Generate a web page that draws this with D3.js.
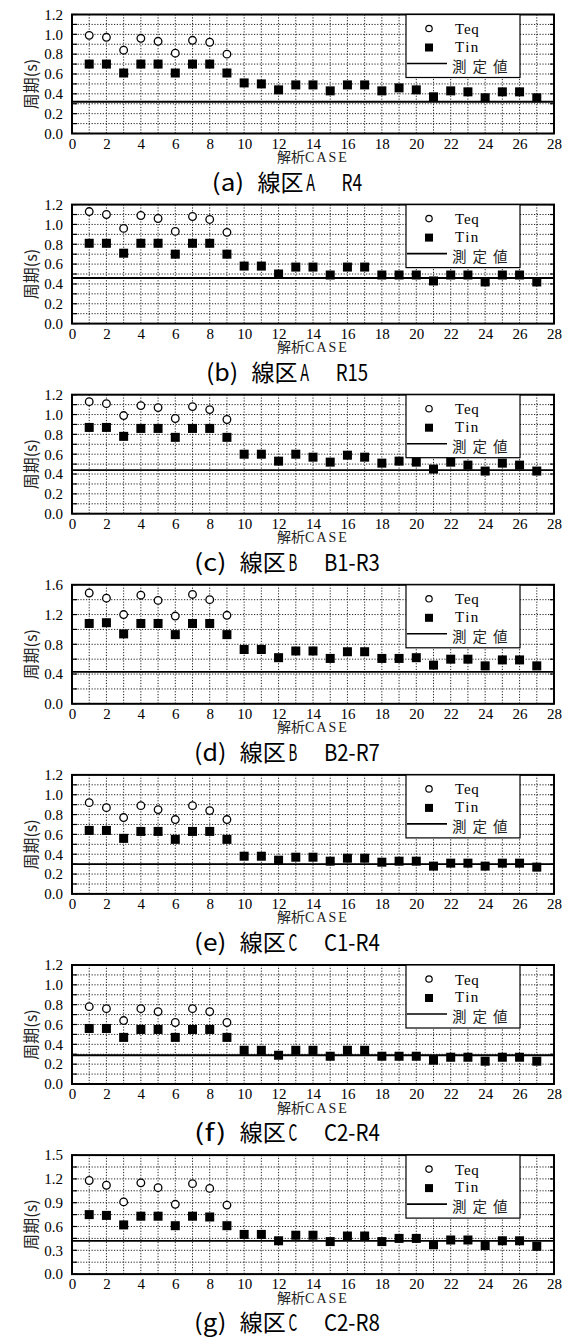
<!DOCTYPE html>
<html lang="ja">
<head>
<meta charset="UTF-8">
<title>周期 - 解析CASE</title>
<style>
  body { margin: 0; background: #fff; }
  svg { display: block; }
</style>
</head>
<body>
<svg id="chart"></svg>
<script src="https://cdn.jsdelivr.net/npm/d3@7/dist/d3.min.js"></script>
<script>
// x categories and tick labels
const cases = [1, 2, 3, 4, 5, 6, 7, 8, 9, 10, 11, 12, 13, 14, 15, 16, 17, 18, 19, 20, 21, 22, 23, 24, 25, 26, 27];
const xTickLabels = [0, 2, 4, 6, 8, 10, 12, 14, 16, 18, 20, 22, 24, 26, 28];

const captions = ['(a) 線区A　R4', '(b) 線区A　R15', '(c) 線区B　B1-R3', '(d) 線区B　B2-R7',
  '(e) 線区C　C1-R4', '(f) 線区C　C2-R4', '(g) 線区C　C2-R8'];
const yMaxes = [1.2, 1.2, 1.2, 1.6, 1.2, 1.2, 1.5];
const yLabelSteps = [0.2, 0.2, 0.2, 0.4, 0.2, 0.2, 0.3];
const yGridSteps = [0.1, 0.1, 0.1, 0.2, 0.1, 0.1, 0.15];
const measured = [0.32, 0.46, 0.44, 0.43, 0.30, 0.29, 0.42];

// Teq only for cases 1-9, Tin for all 27 cases
const teqA = [0.99, 0.97, 0.84, 0.96, 0.93, 0.81, 0.94, 0.92, 0.80];
const tinA = [0.70, 0.70, 0.61, 0.70, 0.70, 0.61, 0.70, 0.70, 0.61, 0.51, 0.50, 0.44, 0.49, 0.49, 0.43,
  0.49, 0.49, 0.43, 0.46, 0.44, 0.37, 0.43, 0.42, 0.36, 0.42, 0.42, 0.36];
const teqB = [1.13, 1.10, 0.96, 1.09, 1.06, 0.93, 1.08, 1.05, 0.92];
const tinB = [0.81, 0.81, 0.71, 0.81, 0.81, 0.70, 0.81, 0.81, 0.70, 0.58, 0.58, 0.50, 0.57, 0.57, 0.49,
  0.57, 0.57, 0.49, 0.49, 0.49, 0.43, 0.49, 0.49, 0.42, 0.49, 0.49, 0.42];
const teqC = [1.13, 1.11, 0.99, 1.09, 1.07, 0.96, 1.08, 1.05, 0.95];
const tinC = [0.87, 0.87, 0.78, 0.86, 0.86, 0.77, 0.86, 0.86, 0.77, 0.60, 0.60, 0.53, 0.60, 0.57, 0.52,
  0.59, 0.57, 0.51, 0.53, 0.52, 0.45, 0.52, 0.49, 0.43, 0.51, 0.49, 0.43];
const teqD = [1.49, 1.42, 1.20, 1.46, 1.39, 1.18, 1.47, 1.40, 1.19];
const tinD = [1.08, 1.09, 0.94, 1.08, 1.08, 0.93, 1.08, 1.08, 0.93, 0.73, 0.73, 0.62, 0.71, 0.71, 0.61,
  0.70, 0.70, 0.61, 0.61, 0.62, 0.52, 0.60, 0.60, 0.51, 0.59, 0.59, 0.51];
const teqE = [0.92, 0.87, 0.77, 0.89, 0.85, 0.75, 0.89, 0.84, 0.75];
const tinE = [0.64, 0.64, 0.56, 0.63, 0.63, 0.55, 0.63, 0.63, 0.55, 0.38, 0.38, 0.34, 0.37, 0.37, 0.33,
  0.36, 0.36, 0.32, 0.33, 0.33, 0.28, 0.31, 0.31, 0.28, 0.31, 0.31, 0.27];
const teqF = [0.78, 0.76, 0.64, 0.76, 0.73, 0.62, 0.76, 0.73, 0.62];
const tinF = [0.56, 0.56, 0.47, 0.55, 0.55, 0.47, 0.55, 0.55, 0.47, 0.34, 0.34, 0.29, 0.34, 0.34, 0.28,
  0.34, 0.34, 0.28, 0.28, 0.28, 0.24, 0.27, 0.27, 0.23, 0.27, 0.27, 0.23];
const teqG = [1.18, 1.12, 0.91, 1.15, 1.09, 0.88, 1.14, 1.08, 0.87];
const tinG = [0.75, 0.74, 0.62, 0.73, 0.73, 0.61, 0.73, 0.72, 0.61, 0.50, 0.50, 0.42, 0.49, 0.49, 0.41,
  0.48, 0.48, 0.41, 0.45, 0.45, 0.37, 0.43, 0.43, 0.36, 0.42, 0.42, 0.35];

const teqs = [teqA, teqB, teqC, teqD, teqE, teqF, teqG];
const tins = [tinA, tinB, tinC, tinD, tinE, tinF, tinG];

const W = 568, H = 1338;
const panelH = 190.1;
const plotL = 72, plotR = 554, plotT = 14.5, plotB = 133.5;

const svg = d3.select('#chart').attr('width', W).attr('height', H);
svg.append('rect').attr('width', W).attr('height', H).attr('fill', '#fff');

const x = d3.scaleLinear().domain([0, 28]).range([plotL, plotR]);

const serif = '"Liberation Serif", "Times New Roman", serif';
const gothic = '"Noto Sans CJK JP", "Noto Sans", sans-serif';

function ticksFor(max, step) {
  const n = Math.round(max / step);
  return d3.range(n + 1).map(i => +(i * step).toFixed(3));
}

// caption with half-width latin / full-width kanji like a monospace gothic
function drawCaption(g, str, cx, baseline) {
  const u = 11.8;
  const items = [];
  let units = 0;
  for (const ch of str) {
    const wide = ch.charCodeAt(0) > 0xff;
    const w = wide ? 2 : 1;
    if (ch !== ' ' && ch !== '　') {
      const last = items[items.length - 1];
      if (last && last.wide === wide && last.end === units) { last.text += ch; last.end += w; }
      else items.push({ text: ch, wide, start: units, end: units + w });
    }
    units += w;
  }
  const x0 = cx - units * u / 2;
  const t = g.append('text')
    .attr('y', baseline)
    .attr('font-family', gothic)
    .attr('font-size', 23)
    .attr('fill', '#000');
  items.forEach(it => {
    const ts = t.append('tspan').text(it.text);
    if (it.wide) {
      ts.attr('x', x0 + it.start * u);
    } else {
      ts.attr('x', x0 + it.start * u + 1.5)
        .attr('textLength', it.text.length * u - 3).attr('lengthAdjust', 'spacingAndGlyphs');
    }
  });
}

captions.forEach((cap, k) => {
  const g = svg.append('g').attr('transform', `translate(0, ${k * panelH})`);
  const yMax = yMaxes[k];
  const y = d3.scaleLinear().domain([0, yMax]).range([plotB, plotT]);
  const gridVals = ticksFor(yMax, yGridSteps[k]);
  const labelVals = ticksFor(yMax, yLabelSteps[k]);

  // dotted grid
  g.append('g').selectAll('line').data(gridVals.slice(1, -1)).join('line')
    .attr('x1', plotL).attr('x2', plotR)
    .attr('y1', d => y(d)).attr('y2', d => y(d))
    .attr('stroke', '#222').attr('stroke-width', 1).attr('stroke-dasharray', '1.2,1.6');
  g.append('g').selectAll('line').data(d3.range(1, 28)).join('line')
    .attr('x1', d => x(d)).attr('x2', d => x(d))
    .attr('y1', plotT).attr('y2', plotB)
    .attr('stroke', '#222').attr('stroke-width', 1).attr('stroke-dasharray', '1.2,1.6');

  // short inward ticks
  const tk = g.append('g').attr('stroke', '#000').attr('stroke-width', 1.2);
  gridVals.forEach(d => {
    tk.append('line').attr('x1', plotL).attr('x2', plotL + 5).attr('y1', y(d)).attr('y2', y(d));
    tk.append('line').attr('x1', plotR - 4).attr('x2', plotR).attr('y1', y(d)).attr('y2', y(d));
  });

  // measured value line
  g.append('line')
    .attr('x1', plotL).attr('x2', plotR)
    .attr('y1', y(measured[k])).attr('y2', y(measured[k]))
    .attr('stroke', '#000').attr('stroke-width', 1.8);

  // frame
  g.append('rect')
    .attr('x', plotL).attr('y', plotT)
    .attr('width', plotR - plotL).attr('height', plotB - plotT)
    .attr('fill', 'none').attr('stroke', '#000').attr('stroke-width', 2);

  // axes (labels only)
  const yAxis = g.append('g').attr('transform', `translate(${plotL},0)`)
    .call(d3.axisLeft(y).tickValues(labelVals).tickSize(0).tickPadding(9).tickFormat(d3.format('.1f')));
  const xAxis = g.append('g').attr('transform', `translate(0,${plotB})`)
    .call(d3.axisBottom(x).tickValues(xTickLabels).tickSize(0).tickPadding(4.5).tickFormat(d3.format('d')));
  [yAxis, xAxis].forEach(a => {
    a.attr('font-family', serif).attr('font-size', 15);
    a.select('.domain').remove();
    a.selectAll('text').attr('font-family', serif).attr('font-size', 15).attr('fill', '#000');
  });

  // axis titles
  g.append('text')
    .attr('transform', `translate(29.5, 84) rotate(-90)`)
    .attr('text-anchor', 'middle').attr('dominant-baseline', 'central')
    .attr('font-family', gothic).attr('font-size', 16).attr('fill', '#222')
    .text('周期(s)');
  const xt = g.append('text')
    .attr('x', (plotL + plotR) / 2).attr('y', 162)
    .attr('text-anchor', 'middle').attr('fill', '#222');
  xt.append('tspan').attr('font-family', gothic).attr('font-size', 14).text('解析');
  xt.append('tspan').attr('font-family', serif).attr('font-size', 14).attr('letter-spacing', 2).text('CASE');

  // legend
  const lx = 406, ly = plotT;
  const lg = g.append('g');
  lg.append('rect').attr('x', lx).attr('y', ly).attr('width', 114).attr('height', 63)
    .attr('fill', '#fff').attr('stroke', '#000').attr('stroke-width', 1.2);
  lg.append('circle').attr('cx', lx + 23).attr('cy', ly + 14).attr('r', 3.2)
    .attr('fill', '#fff').attr('stroke', '#000').attr('stroke-width', 1.2);
  lg.append('rect').attr('x', lx + 19).attr('y', ly + 29).attr('width', 8).attr('height', 8).attr('fill', '#000');
  lg.append('line').attr('x1', lx + 1).attr('x2', lx + 41).attr('y1', ly + 49).attr('y2', ly + 49)
    .attr('stroke', '#000').attr('stroke-width', 1.6);
  lg.append('text').attr('x', lx + 49).attr('y', ly + 19.5).attr('font-family', serif).attr('font-size', 15)
    .attr('letter-spacing', 0.8).text('Teq');
  lg.append('text').attr('x', lx + 49).attr('y', ly + 37).attr('font-family', serif).attr('font-size', 15)
    .attr('letter-spacing', 1.5).text('Tin');
  lg.append('text').attr('x', lx + 46).attr('y', ly + 57).attr('font-family', gothic).attr('font-size', 14.5)
    .attr('letter-spacing', 6).attr('fill', '#222').text('測定値');

  // markers
  const tin = tins[k], teq = teqs[k];
  g.append('g').selectAll('rect').data(cases).join('rect')
    .attr('x', d => x(d) - 4.5).attr('y', (d, i) => y(tin[i]) - 4.5)
    .attr('width', 9).attr('height', 9).attr('fill', '#000');
  g.append('g').selectAll('circle').data(cases.slice(0, teq.length)).join('circle')
    .attr('cx', d => x(d)).attr('cy', (d, i) => y(teq[i]))
    .attr('r', 3.8).attr('fill', '#fff').attr('stroke', '#000').attr('stroke-width', 1.3);

  drawCaption(g, cap, 287, 190.5);
});
</script>
</body>
</html>
